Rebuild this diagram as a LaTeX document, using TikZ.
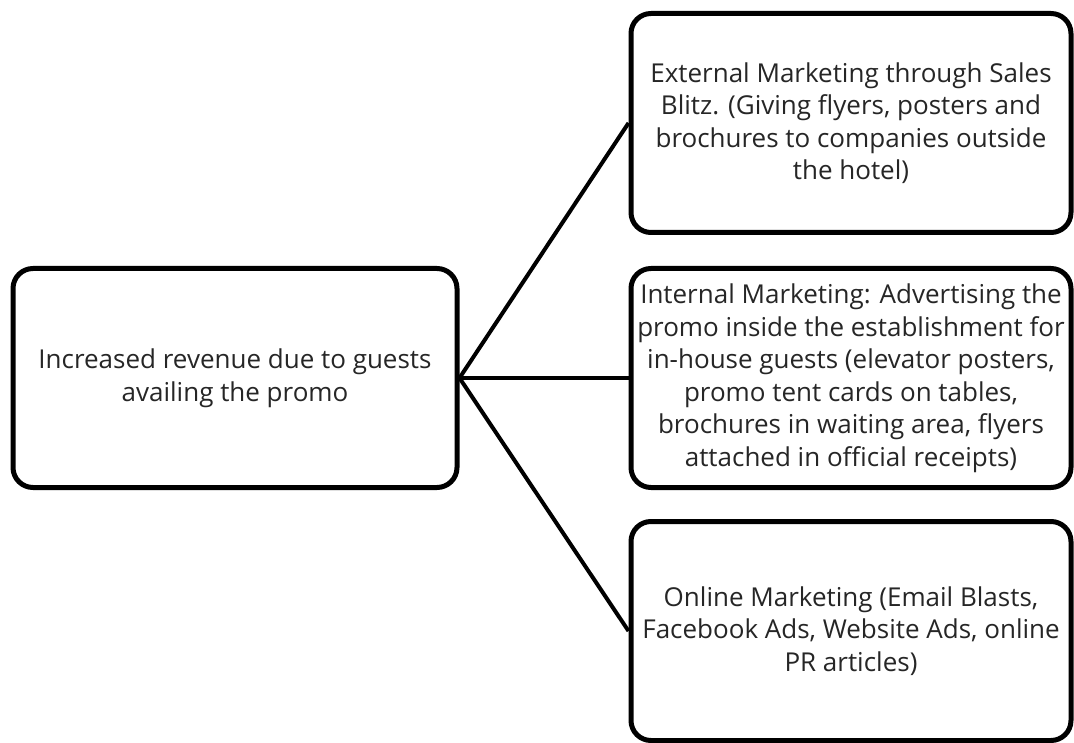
\documentclass[tikz,border=0pt]{standalone}
\usepackage{fontspec}
\setmainfont{Open Sans}

\begin{document}
\begin{tikzpicture}[x=1pt, y=-1pt,
    box/.style={rectangle, rounded corners=20pt, draw=black, line width=5pt,
        fill=white, minimum width=440pt, minimum height=219pt, inner sep=0pt,
        align=center, text=black!85, font=\fontsize{26}{32.5}\selectfont},
    edge/.style={line width=4pt, -}
]
    \useasboundingbox (0,0) rectangle (1074,743);
    \node[box, minimum width=444pt] (revenue) at (235,378) {Increased revenue due to guests\\availing the promo};
    \node[box] (external) at (851,123) {External Marketing through Sales\\Blitz. (Giving flyers, posters and\\brochures to companies outside\\the hotel)};
    \node[box] (internal) at (851,378) {Internal Marketing: Advertising the\\promo inside the establishment for\\in-house guests (elevator posters,\\promo tent cards on tables,\\brochures in waiting area, flyers\\attached in official receipts)};
    \node[box] (online) at (851,631) {Online Marketing (Email Blasts,\\Facebook Ads, Website Ads, online\\PR articles)};
    \draw[edge] (revenue.east) -- (external.west);
    \draw[edge] (revenue.east) -- (internal.west);
    \draw[edge] (revenue.east) -- (online.west);
\end{tikzpicture}
\end{document}
